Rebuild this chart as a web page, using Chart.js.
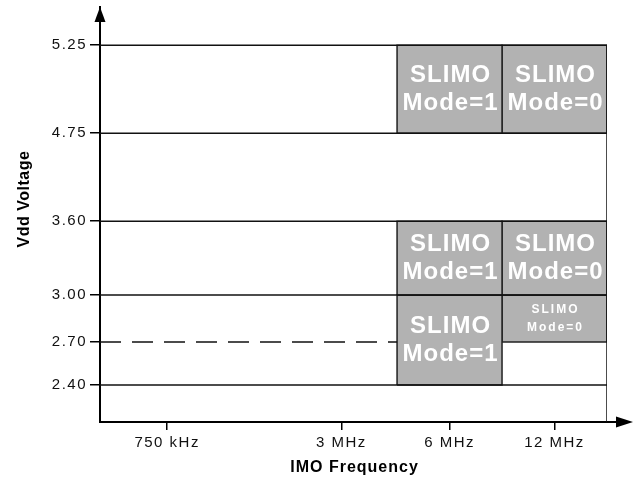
<!DOCTYPE html>
<html>
<head>
<meta charset="utf-8">
<script src="https://cdn.jsdelivr.net/npm/chart.js@4.4.1/dist/chart.umd.min.js"></script>
<style>
  html, body { margin: 0; padding: 0; background: #fff; }
  #wrap { width: 638px; height: 480px; }
</style>
</head>
<body>
<div id="wrap"><canvas id="chart"></canvas></div>
<script>
// x axis: IMO frequency, placed at fixed slots along the axis
const freqLabels = ["750 kHz", "3 MHz", "6 MHz", "12 MHz"];
const freqPos = [0.64, 2.30, 3.33, 4.33];
const freqMax = 4.83;

// y axis: Vdd voltage levels and where they sit on the axis
const voltLabels = ["2.40", "2.70", "3.00", "3.60", "4.75", "5.25"];
const voltPos = [0.89, 1.93, 3.06, 4.84, 6.96, 9.08];
const voltMax = 10;

// solid level lines and the dashed 2.70 line
const solidLevels = ["2.40", "3.00", "3.60", "4.75", "5.25"];
const dashedLevel = "2.70";

// SLIMO mode regions
const boxFreq = ["6 MHz", "12 MHz", "6 MHz", "12 MHz", "6 MHz", "12 MHz"];
const boxVmin = ["4.75", "4.75", "3.00", "3.00", "2.40", "2.70"];
const boxVmax = ["5.25", "5.25", "3.60", "3.60", "3.00", "3.00"];
const boxMode = [1, 0, 1, 0, 1, 0];

const FONT = 'Arial, "Liberation Sans", sans-serif';
const fx = f => freqPos[freqLabels.indexOf(f)];
const vy = v => voltPos[voltLabels.indexOf(v)];

const datasets = [];

solidLevels.forEach(v => {
  datasets.push({
    data: [{ x: 0, y: vy(v) }, { x: freqMax, y: vy(v) }],
    borderColor: "#111", borderWidth: 1.5
  });
});

datasets.push({
  data: [{ x: 0, y: vy(dashedLevel) }, { x: fx("6 MHz") - 0.5, y: vy(dashedLevel) }],
  borderColor: "#111", borderWidth: 1.5, borderDash: [21, 11]
});

// right edge of the 12 MHz column
datasets.push({
  data: [{ x: freqMax, y: 0 }, { x: freqMax, y: vy("5.25") }],
  borderColor: "#111", borderWidth: 1.5
});

boxFreq.forEach((f, i) => {
  const x0 = fx(f) - 0.5, x1 = fx(f) + 0.5;
  const y0 = vy(boxVmin[i]), y1 = vy(boxVmax[i]);
  datasets.push({
    data: [{ x: x0, y: y0 }, { x: x1, y: y0 }, { x: x1, y: y1 }, { x: x0, y: y1 }, { x: x0, y: y0 }],
    borderColor: "#222", borderWidth: 1.5,
    backgroundColor: "#b2b2b2", fill: "shape"
  });
});

const decorations = {
  id: "decorations",
  beforeDraw(chart) {
    // the reference text is set a little wide
    chart.ctx.letterSpacing = "1.5px";
  },
  afterDatasetsDraw(chart) {
    const { ctx, chartArea, scales } = chart;
    const xs = scales.x, ys = scales.y;
    ctx.save();

    // box labels
    ctx.fillStyle = "#fff";
    ctx.textAlign = "center";
    ctx.textBaseline = "middle";
    boxFreq.forEach((f, i) => {
      const cx = xs.getPixelForValue(fx(f));
      const top = ys.getPixelForValue(vy(boxVmax[i]));
      const bot = ys.getPixelForValue(vy(boxVmin[i]));
      const cy = (top + bot) / 2;
      const small = bot - top < 60;
      const size = small ? 12 : 24;
      const gap = small ? 18 : 28;
      ctx.letterSpacing = small ? "2px" : "1px";
      ctx.font = "bold " + size + "px " + FONT;
      ctx.fillText("SLIMO", cx + 1, cy - gap / 2);
      ctx.fillText("Mode=" + boxMode[i], cx + 1, cy + gap / 2);
    });

    // axis arrows
    ctx.fillStyle = "#000";
    ctx.strokeStyle = "#000";
    ctx.lineWidth = 2;
    const ax = chartArea.left, ay = chartArea.bottom;
    ctx.beginPath();
    ctx.moveTo(ax, chartArea.top);
    ctx.lineTo(ax - 5.5, chartArea.top + 15);
    ctx.lineTo(ax + 5.5, chartArea.top + 15);
    ctx.closePath();
    ctx.fill();

    const tip = chartArea.right + 26;
    ctx.beginPath();
    ctx.moveTo(chartArea.right, ay);
    ctx.lineTo(tip - 15, ay);
    ctx.stroke();
    ctx.beginPath();
    ctx.moveTo(tip, ay);
    ctx.lineTo(tip - 17, ay - 5.5);
    ctx.lineTo(tip - 17, ay + 5.5);
    ctx.closePath();
    ctx.fill();

    // axis titles
    ctx.fillStyle = "#000";
    ctx.font = "bold 16px " + FONT;
    ctx.letterSpacing = "1px";
    ctx.textAlign = "center";
    ctx.textBaseline = "middle";
    ctx.fillText("IMO Frequency", (chartArea.left + chartArea.right) / 2 + 1, 468);
    ctx.letterSpacing = "0.5px";
    ctx.translate(25, 199);
    ctx.rotate(-Math.PI / 2);
    ctx.fillText("Vdd Voltage", 0, 0);
    ctx.restore();
  }
};

new Chart(document.getElementById("chart"), {
  type: "scatter",
  data: { datasets: datasets },
  options: {
    responsive: true,
    maintainAspectRatio: false,
    animation: false,
    events: [],
    layout: { autoPadding: false, padding: { top: 7, right: 31, left: 0, bottom: 0 } },
    elements: { point: { radius: 0, hoverRadius: 0, hitRadius: 0 }, line: { tension: 0 } },
    datasets: { scatter: { showLine: true } },
    plugins: { legend: { display: false }, tooltip: { enabled: false } },
    scales: {
      x: {
        type: "linear", min: 0, max: freqMax,
        afterFit: s => { s.height = 58; s.paddingLeft = 0; s.paddingRight = 0; },
        afterBuildTicks: s => { s.ticks = freqPos.map(v => ({ value: v })); },
        grid: { drawOnChartArea: false, drawTicks: true, tickLength: 8, color: "#000", lineWidth: 1.5 },
        border: { display: true, color: "#000", width: 2 },
        ticks: {
          padding: 4, color: "#111", font: { family: FONT, size: 15 },
          callback: (v, i) => freqLabels[i]
        }
      },
      y: {
        type: "linear", min: 0, max: voltMax,
        afterFit: s => { s.width = 100; s.paddingTop = 0; s.paddingBottom = 0; },
        afterBuildTicks: s => { s.ticks = voltPos.map(v => ({ value: v })); },
        grid: { drawOnChartArea: false, drawTicks: true, tickLength: 10, color: "#000", lineWidth: 1.5 },
        border: { display: true, color: "#000", width: 2 },
        ticks: {
          padding: 3, color: "#111", font: { family: FONT, size: 15 },
          callback: (v, i) => voltLabels[i]
        }
      }
    }
  },
  plugins: [decorations]
});
</script>
</body>
</html>
